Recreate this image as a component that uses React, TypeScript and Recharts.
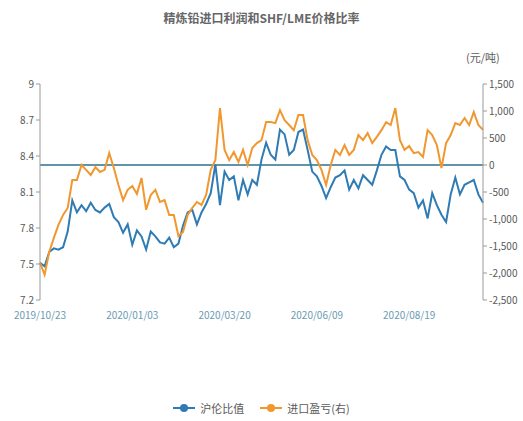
import {
  LineChart,
  Line,
  XAxis,
  YAxis,
  ReferenceLine,
} from 'recharts'

const FONT = '"Noto Sans CJK SC", "Noto Sans", sans-serif'

// x tick labels (index into the series)
const TICK_INDEX = [0, 20, 40, 60, 80]
const TICK_LABELS = ['2019/10/23', '2020/01/03', '2020/03/20', '2020/06/09', '2020/08/19']

// 沪伦比值 (left axis)
const RATIO = [
  7.51, 7.48, 7.6, 7.63, 7.62, 7.64, 7.77, 8.03, 7.93, 7.99,
  7.94, 8.01, 7.95, 7.93, 7.97, 8.0, 7.89, 7.85, 7.76, 7.83,
  7.66, 7.78, 7.73, 7.62, 7.77, 7.73, 7.68, 7.67, 7.72, 7.64,
  7.67, 7.82, 7.93, 7.95, 7.83, 7.93, 8.0, 8.09, 8.33, 7.99,
  8.27, 8.2, 8.23, 8.03, 8.2, 8.08, 8.2, 8.16, 8.37, 8.51,
  8.41, 8.37, 8.62, 8.58, 8.41, 8.45, 8.6, 8.62, 8.45, 8.27,
  8.23, 8.15, 8.05, 8.14, 8.22, 8.24, 8.28, 8.12, 8.2, 8.13,
  8.24, 8.2, 8.16, 8.28, 8.41, 8.48, 8.45, 8.45, 8.23, 8.2,
  8.12, 8.09, 7.97, 8.03, 7.88, 8.09, 7.99, 7.91, 7.85, 8.08,
  8.22, 8.08, 8.16, 8.18, 8.2, 8.08, 8.01,
]

// 进口盈亏 (right axis, 元/吨)
const PROFIT = [
  -1810, -2030, -1610, -1350, -1110, -925, -795, -280, -280, 0,
  -90, -185, -40, -130, -90, 220, -55, -370, -650, -460,
  -390, -535, -240, -830, -555, -460, -685, -650, -925, -925,
  -1315, -1240, -925, -795, -685, -740, -555, -90, 90, 1055,
  280, 90, 240, 55, 280, 0, 315, 405, 460, 795,
  795, 775, 1015, 830, 740, 645, 925, 925, 460, 185,
  90, -90, -370, 0, 280, 185, 370, 185, 280, 555,
  460, 590, 405, 520, 645, 795, 740, 1055, 460, 280,
  350, 220, 240, 150, 645, 555, 370, -55, 405, 555,
  775, 740, 870, 740, 980, 740, 650,
]

const LEFT_TICKS = [7.2, 7.5, 7.8, 8.1, 8.4, 8.7, 9]
const RIGHT_TICKS = [-2500, -2000, -1500, -1000, -500, 0, 500, 1000, 1500]

const BLUE = '#2f7bb4'
const ORANGE = '#f0982f'

const data = RATIO.map((r, i) => ({ i, ratio: r, profit: PROFIT[i] }))

function LegendBox() {
  const items = [
    { name: '沪伦比值', color: BLUE },
    { name: '进口盈亏(右)', color: ORANGE },
  ]
  return (
    <div
      style={{
        position: 'absolute',
        top: 400,
        left: 0,
        width: 523,
        display: 'flex',
        justifyContent: 'center',
        gap: 16,
        fontSize: 11,
        color: '#595959',
      }}
    >
      {items.map((it) => (
        <div key={it.name} style={{ display: 'flex', alignItems: 'center', gap: 5 }}>
          <svg width={22} height={10}>
            <line x1={0} y1={5} x2={22} y2={5} stroke={it.color} strokeWidth={2} />
            <circle cx={11} cy={5} r={4} fill={it.color} />
          </svg>
          <span>{it.name}</span>
        </div>
      ))}
    </div>
  )
}

export default function App() {
  return (
    <div style={{ position: 'absolute', left: 0, top: 0, width: 523, height: 421, background: '#fff', fontFamily: FONT }}>
      <div style={{ position: 'absolute', top: 9, width: 523, textAlign: 'center', fontSize: 12, fontWeight: 'bold', color: '#666' }}>
        精炼铅进口利润和SHF/LME价格比率
      </div>
      <div style={{ position: 'absolute', top: 49, left: 466, fontSize: 11, color: '#595959' }}>(元/吨)</div>
      <LineChart width={523} height={421} data={data} margin={{ top: 84, right: 0, bottom: 91, left: 0 }}>
        <XAxis
          dataKey="i"
          type="number"
          domain={[0, 96]}
          ticks={TICK_INDEX}
          tickFormatter={(v) => TICK_LABELS[TICK_INDEX.indexOf(v)] ?? ''}
          axisLine={false}
          tickLine={false}
          height={30}
          tick={{ fill: '#6a9ab2', fontSize: 10 }}
          tickMargin={6}
        />
        <YAxis
          yAxisId="left"
          domain={[7.2, 9]}
          ticks={LEFT_TICKS}
          width={40}
          tickSize={4}
          axisLine={{ stroke: '#9a9a9a' }}
          tickLine={{ stroke: '#9a9a9a' }}
          tick={{ fill: '#595959', fontSize: 10 }}
          interval={0}
        />
        <YAxis
          yAxisId="right"
          orientation="right"
          domain={[-2500, 1500]}
          ticks={RIGHT_TICKS}
          width={40}
          tickSize={4}
          axisLine={{ stroke: '#9a9a9a' }}
          tickLine={{ stroke: '#9a9a9a' }}
          tick={{ fill: '#595959', fontSize: 10 }}
          tickFormatter={(v) => v.toLocaleString('en-US')}
          interval={0}
        />
        <ReferenceLine yAxisId="right" y={0} stroke="#2e6f88" strokeWidth={1.3} />
        <Line
          yAxisId="left"
          type="linear"
          dataKey="ratio"
          stroke={BLUE}
          strokeWidth={2}
          dot={false}
          isAnimationActive={false}
        />
        <Line
          yAxisId="right"
          type="linear"
          dataKey="profit"
          stroke={ORANGE}
          strokeWidth={2}
          dot={false}
          isAnimationActive={false}
        />
      </LineChart>
      <LegendBox />
    </div>
  )
}
